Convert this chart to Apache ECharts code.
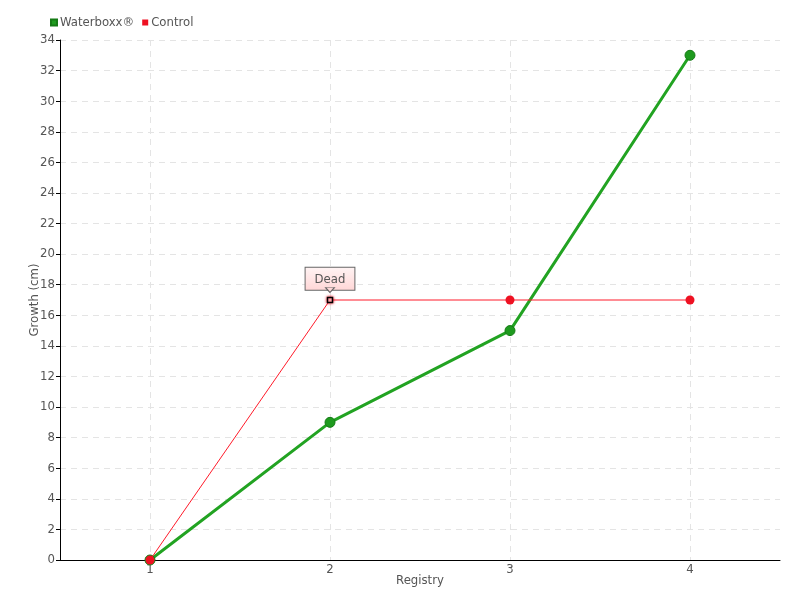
<!DOCTYPE html>
<html><head><meta charset="utf-8">
<script src="https://cdn.jsdelivr.net/npm/echarts@6/dist/echarts.min.js"></script>
<style>html,body{margin:0;padding:0;background:#fff}#c{width:800px;height:600px}</style>
</head><body><div id="c"></div>
<script>
var categories = ['1', '2', '3', '4'];
var waterboxx = [0, 9, 15, 33];
var control = [0, 17, 17, 17];
var deadIndex = 1;
var deadLabel = 'Dead';

var FONT = 'DejaVu Sans Condensed';
var chart = echarts.init(document.getElementById('c'));
var controlData = control.map(function (v, i) {
  if (i === deadIndex) {
    return {
      value: v,
      symbol: 'rect',
      symbolSize: 5,
      itemStyle: { color: '#fff', borderColor: '#000', borderWidth: 1.5, shadowColor: '#ee1122', shadowBlur: 3 },
      label: {
        show: true, position: 'top', distance: 7, formatter: deadLabel,
        color: '#555', fontFamily: FONT, fontSize: 13,
        backgroundColor: { type: 'linear', x: 0, y: 0, x2: 0, y2: 1, colorStops: [{ offset: 0, color: '#fff4f4' }, { offset: 1, color: '#ffd6d6' }] },
        borderColor: '#666', borderWidth: 1, padding: [5, 9, 4, 9]
      }
    };
  }
  return v;
});
chart.setOption({
  animation: false,
  textStyle: { fontFamily: FONT },
  legend: {
    left: 45, top: 11, itemWidth: 6, itemHeight: 6, itemGap: 8, icon: 'rect',
    textStyle: { color: '#555', fontSize: 13, fontFamily: FONT, padding: [0, 0, 0, -2] },
    data: ['Waterboxx®', 'Control']
  },
  grid: { left: 60, right: 20, top: 40, bottom: 40, containLabel: false },
  xAxis: {
    type: 'category', data: categories, boundaryGap: true,
    name: 'Registry', nameLocation: 'middle', nameGap: 14, nameMoveOverlap: false,
    nameTextStyle: { color: '#555', fontSize: 13, fontFamily: FONT },
    axisLine: { lineStyle: { color: '#000', width: 1 } },
    axisTick: { alignWithLabel: true, length: 4, lineStyle: { color: '#000' } },
    axisLabel: { color: '#555', fontSize: 13, margin: 3, fontFamily: FONT },
    splitLine: { show: true, alignWithLabel: true, lineStyle: { color: '#e4e4e4', type: [6, 5] } }
  },
  yAxis: {
    type: 'value', min: 0, max: 34, interval: 2,
    name: 'Growth (cm)', nameLocation: 'middle', nameGap: 19, nameMoveOverlap: false,
    nameTextStyle: { color: '#555', fontSize: 13, fontFamily: FONT },
    axisLine: { show: true, lineStyle: { color: '#000', width: 1 } },
    axisTick: { show: true, length: 4, lineStyle: { color: '#000' } },
    axisLabel: { color: '#555', fontSize: 13, margin: 5, fontFamily: FONT },
    splitLine: { show: true, lineStyle: { color: '#e4e4e4', type: [6, 5] } }
  },
  series: [
    {
      name: 'Waterboxx®', type: 'line', data: waterboxx,
      color: '#1d9a1d',
      lineStyle: { color: '#22a322', width: 3 },
      symbol: 'circle', symbolSize: 10,
      itemStyle: { color: '#1e9a1e', borderColor: '#157a15', borderWidth: 1 },
      z: 2
    },
    {
      name: 'Control', type: 'line', data: controlData,
      color: '#ee1122',
      lineStyle: { color: '#ff1a2a', width: 1 },
      symbol: 'circle', symbolSize: 9,
      itemStyle: { color: '#ee1122' },
      markPoint: {
        silent: true,
        symbol: 'triangle', symbolRotate: 180, symbolSize: [9, 5], symbolOffset: [0, -10],
        itemStyle: { color: '#ffd8d8', borderColor: '#666', borderWidth: 1 },
        label: { show: false },
        data: [{ coord: [deadIndex, control[deadIndex]] }]
      },
      z: 3
    }
  ]
});
</script></body></html>
